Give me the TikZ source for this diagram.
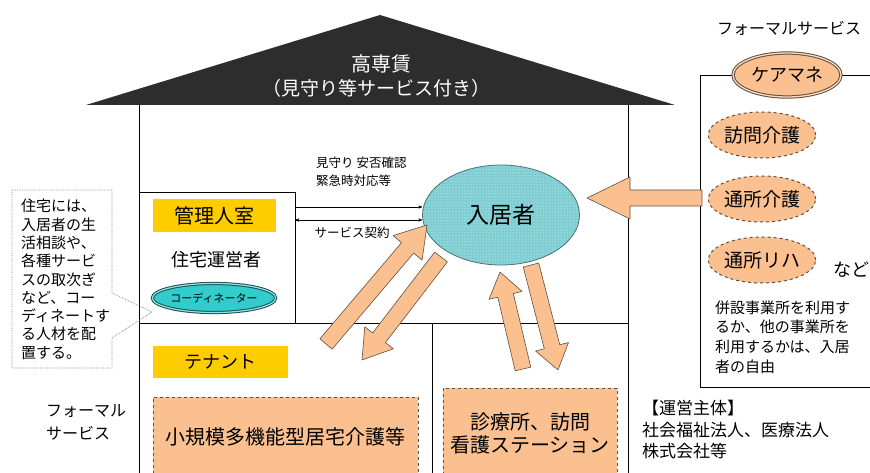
\documentclass[tikz,border=0pt]{standalone}
\usepackage{fontspec}
\setmainfont{Noto Sans CJK JP}
\usepackage{tikz}
\usetikzlibrary{shapes}
\usetikzlibrary{arrows}
\usetikzlibrary{calc}
\usetikzlibrary{patterns}
\definecolor{roofgray}{RGB}{45,45,45}
\definecolor{peach}{RGB}{250,192,144}
\definecolor{peachline}{RGB}{95,80,65}
\definecolor{gold}{RGB}{255,204,0}
\definecolor{tealfill}{RGB}{51,204,204}
\definecolor{tealline}{RGB}{30,80,85}
\definecolor{dotcyan}{RGB}{125,205,210}
\newcommand{\pxfont}[2]{\fontsize{#1}{#2}\selectfont}
\newcommand{\fatarrow}[5]{%
	\path ($(#5)!#3!(#4)$) coordinate (fa_base);
	\draw[fat_arrow] ($(#4)!#1!90:(#5)$) -- ($(fa_base)!#1!-90:(#4)$) -- ($(fa_base)!#2!-90:(#4)$) -- (#5)
		-- ($(fa_base)!#2!90:(#4)$) -- ($(fa_base)!#1!90:(#4)$) -- ($(#4)!#1!-90:(#5)$) -- cycle;
}
\tikzset{
	plain_text/.style = {
		inner sep=0pt,
		text=black
	},
	small_text/.style = {
		plain_text,
		font=\pxfont{12.5}{18}
	},
	roof_text/.style = {
		plain_text,
		text=white,
		font=\pxfont{20}{24}
	},
	wall/.style = {
		draw=black,
		line width=0.9pt
	},
	label_box/.style = {
		rectangle,
		fill=gold,
		inner sep=0pt,
		font=\pxfont{20}{24}
	},
	service_box/.style = {
		rectangle,
		draw=peachline,
		dashed,
		line width=0.9pt,
		fill=peach,
		inner sep=0pt,
		align=center,
		font=\pxfont{20}{23}
	},
	service_oval/.style = {
		ellipse,
		draw=peachline,
		dashed,
		line width=1pt,
		fill=peach,
		inner sep=0pt,
		minimum width=98pt,
		minimum height=46pt,
		font=\pxfont{19}{22}
	},
	care_oval/.style = {
		service_oval,
		solid,
		line width=1pt,
		double=peach!60!white,
		double distance=1.3pt,
		minimum width=108pt,
		minimum height=44pt,
		font=\pxfont{18}{22}
	},
	coord_oval/.style = {
		ellipse,
		draw=tealline,
		line width=1pt,
		double=tealfill!55!white,
		double distance=1.2pt,
		fill=tealfill,
		inner sep=0pt,
		minimum width=110pt,
		minimum height=29pt,
		font=\pxfont{11}{13}
	},
	resident/.style = {
		ellipse,
		draw=tealline!80,
		line width=0.8pt,
		preaction={fill=dotcyan},
		pattern=dots,
		pattern color=white,
		inner sep=0pt,
		minimum width=157pt,
		minimum height=100pt,
		font=\pxfont{23}{26}
	},
	note_line/.style = {
		draw=gray,
		densely dotted,
		line width=0.7pt
	},
	fat_arrow/.style = {
		fill=peach,
		draw=peachline,
		line width=0.6pt,
		line join=round
	}
}

\begin{document}
\begin{tikzpicture}[x=1pt,y=-1pt,>=stealth']
\useasboundingbox (0,0) rectangle (870,473);
\fill[roofgray] (86,105) -- (380,15) -- (675,105) -- cycle;
\node[roof_text] (title) at (381,64) {高専賃};
\node[roof_text, font=\pxfont{19}{22}] (subtitle) at (376,88) {（見守り等サービス付き）};
\draw[wall] (139,105) -- (139,480);
\draw[wall] (628,105) -- (628,480);
\draw[wall] (139,323) -- (628,323);
\draw[wall] (432,323) -- (432,480);
\draw[wall] (880,75) -- (700,75) -- (700,387) -- (880,387);
\node[wall, rectangle, minimum width=156pt, minimum height=131pt, inner sep=0pt] (office_frame) at (217,257.5) {};

\node[label_box, minimum width=123pt, minimum height=33pt] (office) at (214,216) {管理人室};
\node[plain_text, font=\pxfont{18}{22}] (operator) at (216,260) {住宅運営者};
\node[coord_oval] (coordinator) at (214,298) {コーディネーター};
\node[small_text, align=left, anchor=west] (watch) at (316,172) {見守り 安否確認\\緊急時対応等};
\node[small_text] (contract) at (352,233) {サービス契約};
\node[resident] (resident) at (501,215) {入居者};
\draw[->, thin] ([yshift=50.5pt]office_frame.east) -- ([yshift=50.5pt]office_frame.east -| resident.west);
\draw[<->, thin] ([yshift=37.5pt]office_frame.east) -- ([yshift=37.5pt]office_frame.east -| resident.west);

\node[label_box, font=\pxfont{18}{22}, minimum width=135pt, minimum height=32pt] (tenant) at (220.5,362) {テナント};
\node[service_box, minimum width=265pt, minimum height=80pt] (smallscale) at (285.5,437) {小規模多機能型居宅介護等};
\node[service_box, minimum width=174pt, minimum height=90pt] (clinic) at (530,433) {診療所、訪問\\看護ステーション};
\node[plain_text, align=left, anchor=west, font=\pxfont{16}{23}] (formal_l) at (46,422) {フォーマル\\サービス};

\draw[note_line] (12,190) -- (112,190) -- (112,293) -- (152,312) -- (112,338) -- (112,368) -- (12,368) -- cycle;
\node[plain_text, align=left, anchor=north west, font=\pxfont{15}{18.3}] (note) at (21,199) {住宅には、\\入居者の生\\活相談や、\\各種サービ\\スの取次ぎ\\など、コー\\ディネートす\\る人材を配\\置する。};

\node[plain_text, font=\pxfont{16}{20}] (formal_r) at (789,28) {フォーマルサービス};
\node[care_oval] (caremgr) at (787,75) {ケアマネ};
\node[service_oval] (homecare) at (762,135) {訪問介護};
\node[service_oval] (daycare) at (762,199) {通所介護};
\node[service_oval] (dayrehab) at (762,260) {通所リハ};
\node[plain_text, anchor=west, font=\pxfont{18}{20}] (etc) at (833,270) {など};
\node[plain_text, align=left, anchor=west, font=\pxfont{15}{19.7}] (choice) at (715,337) {併設事業所を利用す\\るか、他の事業所を\\利用するかは、入居\\者の自由};
\node[plain_text, align=left, anchor=west, font=\pxfont{17}{21.5}] (operators) at (642,430) {【運営主体】\\社会福祉法人、医療法人\\株式会社等};

\coordinate (ra_tail) at (702,198);
\coordinate (ra_tip) at (587,198);
\coordinate (ur_tail) at (326,344);
\coordinate (ur_tip) at (427,225);
\coordinate (dl_tail) at (441,257);
\coordinate (dl_tip) at (362,360);
\coordinate (up_tail) at (523,369);
\coordinate (up_tip) at (500,272);
\coordinate (dn_tail) at (531,265);
\coordinate (dn_tip) at (558,370);
\fatarrow{8pt}{21pt}{43pt}{ra_tail}{ra_tip}
\fatarrow{8pt}{19pt}{30pt}{ur_tail}{ur_tip}
\fatarrow{8pt}{18pt}{28pt}{dl_tail}{dl_tip}
\fatarrow{8pt}{17pt}{24pt}{up_tail}{up_tip}
\fatarrow{8pt}{17pt}{24pt}{dn_tail}{dn_tip}
\end{tikzpicture}
\end{document}
